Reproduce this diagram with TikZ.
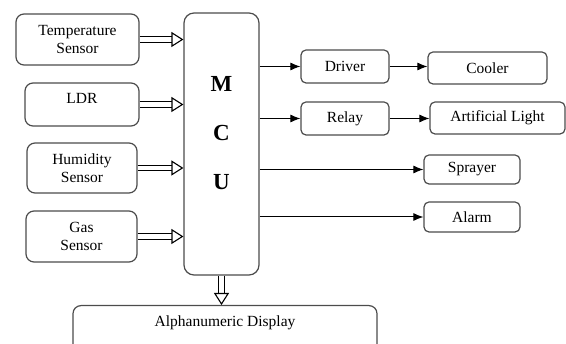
\documentclass[tikz,border=0pt]{standalone}
\usepackage{fontspec}
\setmainfont{Liberation Serif}
\usepackage{tikz}
\usetikzlibrary{arrows.meta, positioning, calc}
\tikzset{
  sensor/.style={rectangle, draw=black!70, line width=1.2pt, rounded corners=8pt,
    align=center, font=\fontsize{15.5}{18}\selectfont, inner sep=2pt},
  outbox/.style={rectangle, draw=black!70, line width=1.2pt, rounded corners=5pt,
    align=center, font=\fontsize{15.5}{18}\selectfont, inner sep=2pt},
  mcubox/.style={rectangle, draw=black!70, line width=1.2pt, rounded corners=10pt,
    align=center, font=\fontsize{23}{49}\selectfont\bfseries},
  arr/.style={-{Latex[length=10pt, width=8pt]}, line width=1pt},
  dblarr/.style={double=white, double distance=4.6pt, line width=1.1pt,
    -{Triangle[open, length=12pt, width=15pt, line width=1.1pt]}},
}
\begin{document}
\begin{tikzpicture}[x=1pt, y=-1pt]
  \useasboundingbox (0,0) rectangle (566,344);
  \clip (0,0) rectangle (566,344);

  % Sensors
  \node[sensor, minimum width=123pt, minimum height=51pt] (temp) at (77.5,39.5) {Temperature\\Sensor};
  \node[sensor, minimum width=114pt, minimum height=43pt, text depth=12pt] (ldr) at (82,104.5) {LDR};
  \node[sensor, minimum width=110pt, minimum height=50pt] (humid) at (82,168) {Humidity\\Sensor};
  \node[sensor, minimum width=111pt, minimum height=51pt] (gas) at (81.5,236.5) {Gas\\Sensor};

  % Controller
  \node[mcubox, minimum width=75pt, minimum height=262pt, text depth=22pt] (mcu) at (221.5,144) {M\\C\\U};

  % Outputs
  \node[outbox, minimum width=88pt, minimum height=33pt] (driver) at (345,66.5) {Driver};
  \node[outbox, minimum width=119pt, minimum height=32pt] (cooler) at (487.5,68) {Cooler};
  \node[outbox, minimum width=88pt, minimum height=33pt] (relay) at (345,118.5) {Relay};
  \node[outbox, minimum width=135pt, minimum height=32pt] (light) at (497.5,118) {Artificial Light};
  \node[outbox, minimum width=96pt, minimum height=29pt] (sprayer) at (472,169.5) {Sprayer};
  \node[outbox, minimum width=96pt, minimum height=30pt] (alarm) at (472,217) {Alarm};

  % Display
  \node[sensor, anchor=north, minimum width=304pt, minimum height=60pt, text depth=28pt] (disp) at (225,305) {Alphanumeric Display};

  % Inputs to MCU
  \foreach \s in {temp, ldr, humid, gas}
    \draw[dblarr] (\s.east) -- (\s.east -| mcu.west);
  \draw[dblarr] (mcu.south) -- (mcu.south |- disp.north);

  % MCU to outputs
  \draw[arr] (mcu.east |- driver.west) -- (driver.west);
  \draw[arr] (driver.east) -- (driver.east -| cooler.west);
  \draw[arr] (mcu.east |- relay.west) -- (relay.west);
  \draw[arr] (relay.east) -- (relay.east -| light.west);
  \draw[arr] (mcu.east |- sprayer.west) -- (sprayer.west);
  \draw[arr] (mcu.east |- alarm.west) -- (alarm.west);
\end{tikzpicture}
\end{document}
